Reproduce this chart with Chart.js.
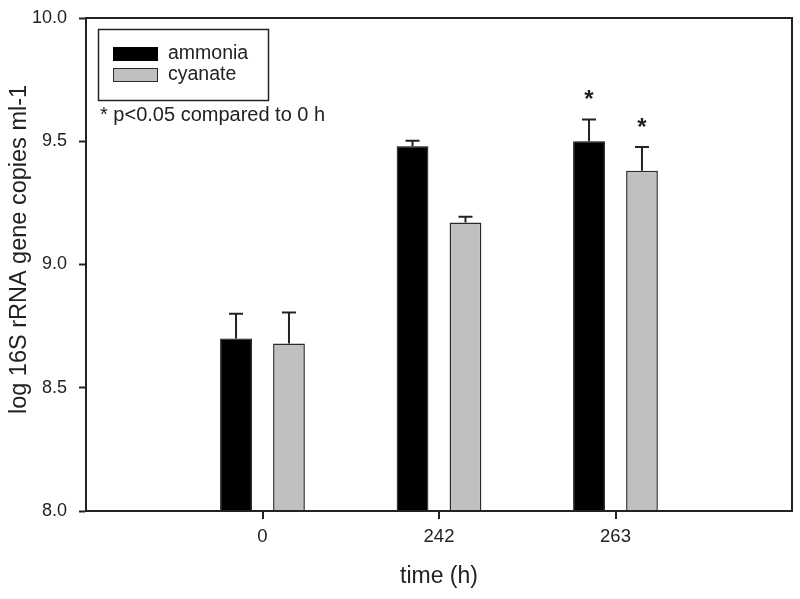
<!DOCTYPE html>
<html>
<head>
<meta charset="utf-8">
<script src="https://cdn.jsdelivr.net/npm/chart.js@4/dist/chart.umd.min.js"></script>
<style>
  html, body { margin: 0; padding: 0; background: #fff; }
  #wrap { width: 800px; height: 599px; }
</style>
</head>
<body>
<div id="wrap"><canvas id="barChart" width="800" height="599"></canvas></div>
<script>
// time points (h)
const times = ['0', '242', '263'];
// log 16S rRNA gene copies ml-1
const ammonia = [8.70, 9.48, 9.50];
const cyanate = [8.68, 9.17, 9.38];
// upper error bars
const ammoniaErr = [0.10, 0.022, 0.088];
const cyanateErr = [0.125, 0.024, 0.097];
// significance vs 0 h
const ammoniaSig = [false, false, true];
const cyanateSig = [false, false, true];
const yTicks = [8.0, 8.5, 9.0, 9.5, 10.0];

const FONT = "'Liberation Sans', Arial, sans-serif";
const INK = '#222';
const Y_TITLE = 'log 16S rRNA gene copies ml-1';

// empty slots at both ends so the three time points sit at 1/4, 2/4, 3/4
const labels = [''].concat(times, ['']);
const pad = arr => [null].concat(arr, [null]);

const errorBars = {
    id: 'errorBars',
    afterDatasetsDraw(chart) {
        const ctx = chart.ctx;
        const y = chart.scales.y;
        ctx.save();
        ctx.strokeStyle = INK;
        ctx.lineWidth = 2;
        ctx.fillStyle = INK;
        ctx.font = 'bold 24px ' + FONT;
        ctx.textAlign = 'center';
        ctx.textBaseline = 'middle';
        chart.data.datasets.forEach((ds, i) => {
            const meta = chart.getDatasetMeta(i);
            meta.data.forEach((bar, j) => {
                const v = ds.data[j];
                if (v == null) return;
                const e = ds.errors[j - 1];
                const top = y.getPixelForValue(v + e);
                const base = y.getPixelForValue(v);
                ctx.beginPath();
                ctx.moveTo(bar.x, base);
                ctx.lineTo(bar.x, top);
                ctx.moveTo(bar.x - 7, top);
                ctx.lineTo(bar.x + 7, top);
                ctx.stroke();
                if (ds.sig[j - 1]) {
                    ctx.fillText('*', bar.x, top - 19);
                }
            });
        });
        ctx.restore();
    }
};

const frameAndLegend = {
    id: 'frameAndLegend',
    afterDraw(chart) {
        const ctx = chart.ctx;
        const a = chart.chartArea;
        const xs = chart.scales.x;
        ctx.save();
        ctx.strokeStyle = INK;
        ctx.lineWidth = 2;
        ctx.strokeRect(a.left, a.top, a.right - a.left, a.bottom - a.top);

        // x tick marks at the time points only
        ctx.fillStyle = INK;
        for (let i = 1; i <= times.length; i++) {
            const px = Math.round(xs.getPixelForValue(i));
            ctx.fillRect(px - 1, a.bottom, 2, 8);
        }

        // y axis title
        ctx.save();
        ctx.translate(20, (a.top + a.bottom) / 2 - 15);
        ctx.rotate(-Math.PI / 2);
        ctx.font = '23.5px ' + FONT;
        ctx.fillStyle = INK;
        ctx.textAlign = 'center';
        ctx.textBaseline = 'middle';
        ctx.fillText(Y_TITLE, 0, 0);
        ctx.restore();

        // legend box
        const lx = a.left + 12, ly = a.top + 11;
        ctx.lineWidth = 1.5;
        ctx.strokeRect(lx + 0.5, ly + 0.5, 170, 71);
        ctx.font = '19.5px ' + FONT;
        ctx.textAlign = 'left';
        ctx.textBaseline = 'middle';
        chart.data.datasets.forEach((ds, i) => {
            const sy = ly + 18 + i * 21;
            ctx.fillStyle = ds.backgroundColor;
            ctx.fillRect(lx + 15, sy, 45, 14);
            ctx.lineWidth = 1;
            ctx.strokeStyle = ds.borderColor;
            ctx.strokeRect(lx + 15.5, sy + 0.5, 44, 13);
            ctx.fillStyle = INK;
            ctx.fillText(ds.label, lx + 70, sy + 7);
        });
        ctx.font = '20px ' + FONT;
        ctx.fillText('* p<0.05 compared to 0 h', lx + 2, ly + 86);
        ctx.restore();
    }
};

new Chart(document.getElementById('barChart').getContext('2d'), {
    type: 'bar',
    data: {
        labels: labels,
        datasets: [{
            label: 'ammonia',
            data: pad(ammonia),
            errors: ammoniaErr,
            sig: ammoniaSig,
            backgroundColor: '#000000',
            borderColor: '#000000',
            borderWidth: 1
        }, {
            label: 'cyanate',
            data: pad(cyanate),
            errors: cyanateErr,
            sig: cyanateSig,
            backgroundColor: '#c0c0c0',
            borderColor: '#2a2a2a',
            borderWidth: 1.5
        }]
    },
    options: {
        responsive: false,
        animation: false,
        categoryPercentage: 0.6,
        barPercentage: 0.6,
        layout: { padding: { top: 18, right: 8, left: 0, bottom: 0 } },
        plugins: {
            legend: { display: false },
            tooltip: { enabled: false }
        },
        scales: {
            x: {
                type: 'category',
                offset: false,
                grid: {
                    offset: false,
                    drawOnChartArea: false,
                    tickLength: 7,
                    tickColor: 'rgba(0,0,0,0)'
                },
                border: { color: INK, width: 2 },
                ticks: {
                    padding: 8,
                    color: INK,
                    maxRotation: 0,
                    autoSkip: false,
                    font: { family: FONT, size: 18.5 }
                },
                title: {
                    display: true,
                    text: 'time (h)',
                    color: INK,
                    padding: { top: 0, bottom: 9 },
                    font: { family: FONT, size: 23 }
                },
                afterFit(s) { s.height = 88; s.paddingLeft = 0; s.paddingRight = 0; }
            },
            y: {
                min: yTicks[0],
                max: yTicks[yTicks.length - 1],
                afterBuildTicks(s) { s.ticks = yTicks.map(v => ({ value: v })); },
                grid: {
                    drawOnChartArea: false,
                    tickLength: 7,
                    tickWidth: 2,
                    color: INK
                },
                border: { color: INK, width: 2 },
                ticks: {
                    padding: 12,
                    color: INK,
                    font: { family: FONT, size: 18 },
                    callback: v => Number(v).toFixed(1)
                },
                afterFit(s) { s.width = 86; s.paddingTop = 0; s.paddingBottom = 0; }
            }
        }
    },
    plugins: [errorBars, frameAndLegend]
});
</script>
</body>
</html>
